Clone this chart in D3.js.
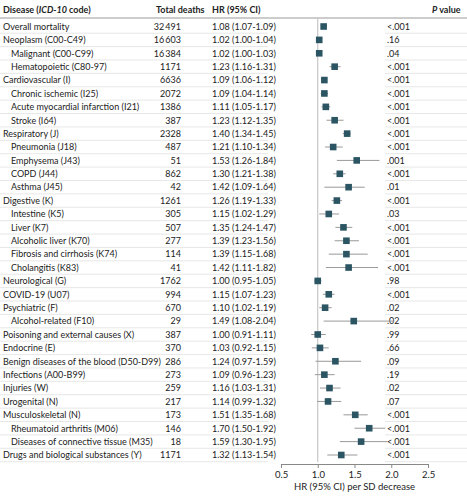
<!DOCTYPE html><html><head><meta charset="utf-8"><script src="https://cdn.jsdelivr.net/npm/d3@7"></script>
<style>body{margin:0;background:#fff}text{font-family:Lato,"Open Sans",sans-serif;fill:#222}</style></head><body><svg id="c" width="467" height="497"></svg>
<script>
const names=["Overall mortality","Neoplasm (C00-C49)","Malignant (C00-C99)","Hematopoietic (C80-97)","Cardiovascular (I)","Chronic ischemic (I25)","Acute myocardial infarction (I21)","Stroke (I64)","Respiratory (J)","Pneumonia (J18)","Emphysema (J43)","COPD (J44)","Asthma (J45)","Digestive (K)","Intestine (K5)","Liver (K7)","Alcoholic liver (K70)","Fibrosis and cirrhosis (K74)","Cholangitis (K83)","Neurological (G)","COVID-19 (U07)","Psychiatric (F)","Alcohol-related (F10)","Poisoning and external causes (X)","Endocrine (E)","Benign diseases of the blood (D50-D99)","Infections (A00-B99)","Injuries (W)","Urogenital (N)","Musculoskeletal (N)","Rheumatoid arthritis (M06)","Diseases of connective tissue (M35)","Drugs and biological substances (Y)"];
const indent=[0,0,1,1,0,1,1,1,0,1,1,1,1,0,1,1,1,1,1,0,0,0,1,0,0,0,0,0,0,0,1,1,0];
const deaths=[32491,16603,16384,1171,6636,2072,1386,387,2328,487,51,862,42,1261,305,507,277,114,41,1762,994,670,29,387,370,286,273,259,217,173,146,18,1171];
const hr=[1.08,1.02,1.02,1.23,1.09,1.09,1.11,1.23,1.40,1.21,1.53,1.30,1.42,1.26,1.15,1.35,1.39,1.39,1.42,1.00,1.15,1.10,1.49,1.00,1.03,1.24,1.09,1.16,1.14,1.51,1.70,1.59,1.32];
const lo=[1.07,1.00,1.00,1.16,1.06,1.04,1.05,1.12,1.34,1.10,1.26,1.21,1.09,1.19,1.02,1.24,1.23,1.15,1.11,0.95,1.07,1.02,1.08,0.91,0.92,0.97,0.96,1.03,0.99,1.35,1.50,1.30,1.13];
const hi=[1.09,1.04,1.03,1.31,1.12,1.14,1.17,1.35,1.45,1.34,1.84,1.38,1.64,1.33,1.29,1.47,1.56,1.68,1.82,1.05,1.23,1.19,2.04,1.11,1.15,1.59,1.23,1.31,1.32,1.68,1.92,1.95,1.54];
const pv=["<.001",".16",".04","<.001","<.001","<.001","<.001","<.001","<.001","<.001",".001","<.001",".01","<.001",".03","<.001","<.001","<.001","<.001",".98","<.001",".02",".02",".99",".66",".09",".19",".02",".07","<.001","<.001","<.001","<.001"];
const ticks=[0.5,1.0,1.5,2.0,2.5];
const svg=d3.select("#c");
const x=d3.scaleLinear().domain([0.5,2.5]).range([281,428]);
const y=d3.scaleLinear().domain([0,32]).range([26.5,455]);
const fs="9px",fmt=d3.format(".2f");
const hdr=svg.append("g").style("font-size",fs).style("font-weight","bold");
const h1=hdr.append("text").attr("x",3).attr("y",13);h1.append("tspan").text("Disease (");h1.append("tspan").attr("font-style","italic").text("ICD-10");h1.append("tspan").text(" code)");
hdr.append("text").attr("x",156).attr("y",13).text("Total deaths");
hdr.append("text").attr("x",212).attr("y",13).text("HR (95% CI)");
const h4=hdr.append("text").attr("x",432).attr("y",13);h4.append("tspan").attr("font-style","italic").text("P");h4.append("tspan").text(" value");
svg.append("line").attr("x1",0).attr("x2",467).attr("y1",18).attr("y2",18).attr("stroke","#999");
names.forEach((n,i)=>{
  const yy=y(i);
  svg.append("line").attr("x1",0).attr("x2",268).attr("y1",yy+6.7).attr("y2",yy+6.7).attr("stroke","#ddd").attr("stroke-width",0.7);
  svg.append("line").attr("x1",385).attr("x2",467).attr("y1",yy+6.7).attr("y2",yy+6.7).attr("stroke","#ddd").attr("stroke-width",0.7);
  const g=svg.append("g").style("font-size",fs);
  g.append("text").attr("x",3+indent[i]*8).attr("y",yy+3.3).text(n);
  const d=deaths[i]>=10000?d3.format(",")(deaths[i]).replace(/,/g,"\u2009"):String(deaths[i]);
  g.append("text").attr("x",181).attr("y",yy+3.3).attr("text-anchor","end").text(d);
  g.append("text").attr("x",212).attr("y",yy+3.3).text(`${fmt(hr[i])} (${fmt(lo[i])}-${fmt(hi[i])})`);
  g.append("text").attr("x",387).attr("y",yy+3.3).text(pv[i]);
});
svg.append("line").attr("x1",x(1)).attr("x2",x(1)).attr("y1",19).attr("y2",462).attr("stroke","#bbb");
names.forEach((n,i)=>{
  svg.append("line").attr("x1",x(lo[i])).attr("x2",x(hi[i])).attr("y1",y(i)).attr("y2",y(i)).attr("stroke","#999").attr("stroke-width",1);
  svg.append("rect").attr("x",x(hr[i])-3.3).attr("y",y(i)-3.3).attr("width",6.6).attr("height",6.6).attr("fill","#2b5563");
});
const ax=svg.append("g").attr("transform","translate(0,464)").call(d3.axisBottom(x).tickValues(ticks).tickFormat(d3.format(".1f")).tickSize(4).tickSizeOuter(0));
ax.select(".domain").attr("stroke","#888");ax.selectAll(".tick line").attr("stroke","#888");
ax.selectAll("text").style("font-size","9.5px").style("font-family","Lato,sans-serif").attr("fill","#222");
svg.append("text").attr("x",x(1.5)).attr("y",490).attr("text-anchor","middle").style("font-size","9.5px").text("HR (95% CI) per SD decrease");
</script></body></html>
